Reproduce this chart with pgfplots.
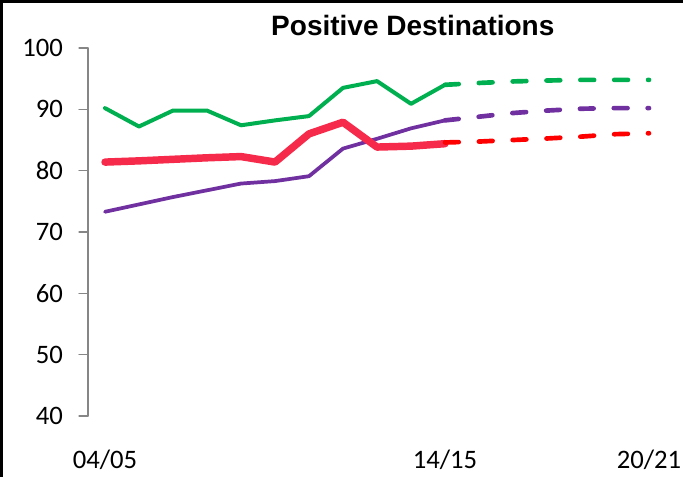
\documentclass[border=0pt]{standalone}
\usepackage{pgfplots}
\pgfplotsset{compat=1.18}
\usepackage{fontspec}
\setmainfont{Carlito}
\newfontfamily\titlefont{Liberation Sans}

\definecolor{pdgreen}{RGB}{0,176,80}
\definecolor{pdpurple}{RGB}{112,48,160}
\definecolor{pdred}{RGB}{246,42,74}
\definecolor{pdredfc}{RGB}{255,0,0}
\definecolor{axisgray}{RGB}{134,134,134}

\begin{document}
\begin{tikzpicture}
\begin{axis}[
  scale only axis,
  width=433.5pt, height=276pt,
  xmin=-0.5, xmax=16.5,
  ymin=40, ymax=100,
  axis lines=left,
  axis line style={-},
  x axis line style={draw=none},
  y axis line style={axisgray, line width=0.8pt},
  xtick={0,10,16},
  xticklabels={04/05,14/15,20/21},
  xtick style={draw=none},
  ytick={40,50,...,100},
  ytick style={axisgray, line width=0.8pt},
  tick align=outside,
  major tick length=6.75pt,
  ticklabel style={font=\fontsize{20}{24}\selectfont},
  /pgf/number format/assume math mode=true,
  xticklabel style={yshift=-15pt},
  yticklabel style={xshift=-8.5pt},
  clip=false,
  line cap=round, line join=round,
]
% observed years 04/05 to 14/15
\addplot[pdgreen, line width=3pt] coordinates {
  (0,90.2) (1,87.2) (2,89.8) (3,89.8) (4,87.4) (5,88.2)
  (6,88.9) (7,93.5) (8,94.6) (9,90.9) (10,94.0)};
\addplot[pdpurple, line width=2.8pt] coordinates {
  (0,73.3) (1,74.5) (2,75.7) (3,76.8) (4,77.9) (5,78.3)
  (6,79.1) (7,83.6) (8,85.2) (9,86.9) (10,88.2)};
\addplot[pdred, line width=5.6pt] coordinates {
  (0,81.4) (1,81.6) (2,81.85) (3,82.1) (4,82.3) (5,81.4)
  (6,86.0) (7,87.9) (8,83.85) (9,84.0) (10,84.4)};
% projections to 20/21
\addplot[pdgreen, line width=3.5pt, dash pattern=on 10.3pt off 15.1pt] coordinates {
  (10,94.0) (11,94.3) (12,94.55) (13,94.7) (14,94.8) (15,94.8) (16,94.8)};
\addplot[pdpurple, line width=3.5pt, dash pattern=on 10.3pt off 15.1pt] coordinates {
  (10,88.2) (11,88.8) (12,89.4) (13,89.8) (14,90.1) (15,90.2) (16,90.2)};
\addplot[pdredfc, line width=3.5pt, dash pattern=on 10.3pt off 15.1pt] coordinates {
  (10,84.6) (11,84.75) (12,85.0) (13,85.25) (14,85.55) (15,85.95) (16,86.1)};
\node[font=\titlefont\bfseries\fontsize{21}{25}\selectfont, yshift=17pt]
  at (rel axis cs:0.562,1) {Positive Destinations};
\end{axis}
\pgfresetboundingbox
\begin{scope}[shift={(current axis.south west)}, x=0.75pt, y=0.75pt]
  \useasboundingbox (-88,-60) rectangle (595,416);
  \draw[black, line width=2.25pt, line cap=rect]
    (-86.5,-62) -- (-86.5,414.5) -- (597,414.5);
\end{scope}
\end{tikzpicture}
\end{document}
